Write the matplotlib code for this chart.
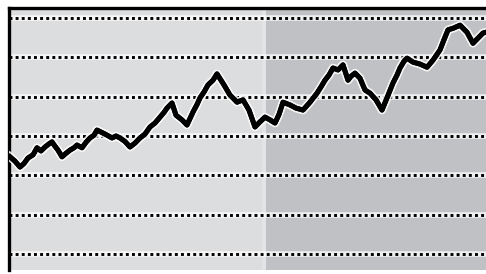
import matplotlib
matplotlib.use("Agg")
import matplotlib.pyplot as plt
import matplotlib.patheffects as pe

# x positions and values (no axis labels in the original)
xs = [10, 15, 20, 24, 28, 33, 37, 41, 45, 49, 52, 55, 58, 62, 66, 70, 74, 77,
      82, 86, 90, 94, 97, 101, 105, 112, 116, 120, 125, 130, 135, 140, 145,
      150, 155, 160, 164, 167, 172, 176, 182, 187, 193, 197, 200, 204, 208,
      213, 217, 224, 230, 234, 237, 243, 249, 255, 260, 265, 270, 275, 279,
      283, 290, 296, 303, 310, 317, 321, 325, 329, 333, 338, 343, 348, 351,
      355, 360, 365, 370, 376, 382, 387, 393, 397, 400, 404, 407, 413, 420,
      427, 433, 440, 444, 448, 454, 460, 467, 473, 478, 483, 486]
vals = [2.47, 2.36, 2.21, 2.30, 2.44, 2.52, 2.70, 2.62, 2.72, 2.80, 2.85, 2.74,
        2.64, 2.47, 2.56, 2.64, 2.70, 2.77, 2.70, 2.84, 2.95, 3.02, 3.15, 3.10,
        3.05, 2.95, 3.00, 2.95, 2.86, 2.72, 2.82, 2.95, 3.05, 3.23, 3.33, 3.48,
        3.60, 3.71, 3.84, 3.53, 3.41, 3.28, 3.61, 3.80, 3.97, 4.12, 4.30, 4.42,
        4.58, 4.30, 4.04, 3.94, 3.86, 3.92, 3.66, 3.23, 3.36, 3.48, 3.41, 3.33,
        3.55, 3.86, 3.79, 3.71, 3.66, 3.86, 4.09, 4.25, 4.42, 4.55, 4.73, 4.68,
        4.81, 4.42, 4.52, 4.60, 4.47, 4.17, 4.09, 3.92, 3.66, 3.97, 4.35, 4.55,
        4.73, 4.90, 4.98, 4.88, 4.83, 4.75, 4.93, 5.19, 5.45, 5.70, 5.75, 5.82,
        5.64, 5.36, 5.49, 5.62, 5.64]
grid_levels = [0, 1, 2, 3, 4, 5, 6]
split_x = 264   # where the darker shaded period starts

fig = plt.figure(figsize=(4.86, 2.74), dpi=100, facecolor="white")
ax = fig.add_axes([8.5 / 486, 4 / 274, 1 - 8.5 / 486, 1 - 11.5 / 274])
ax.set_xlim(8.5, 486)
ax.set_ylim(-0.41, 6.27)

ax.axvspan(8.5, split_x - 2, color="#dcdddf", lw=0, zorder=0)
ax.axvspan(split_x - 2, split_x + 2, color="#e3e4e5", lw=0, zorder=0)
ax.axvspan(split_x + 2, 486, color="#bfc1c4", lw=0, zorder=0)

for g in grid_levels:
    ax.axhline(g, color="white", lw=4.0, alpha=0.75, zorder=1)
    ax.axhline(g, color="black", lw=2.1, ls=(0, (1, 1.1)), zorder=2)

ax.plot(xs, vals, color="black", lw=3.6, solid_joinstyle="round", zorder=3,
        path_effects=[pe.withStroke(linewidth=6.2, foreground="white", alpha=0.85), pe.Normal()])

for side in ["right", "bottom"]:
    ax.spines[side].set_visible(False)
for side in ["left", "top"]:
    ax.spines[side].set_linewidth(2.4)
    ax.spines[side].set_color("black")
ax.set_xticks([])
ax.set_yticks([])

fig.savefig("out.png", dpi=100, facecolor="white")
